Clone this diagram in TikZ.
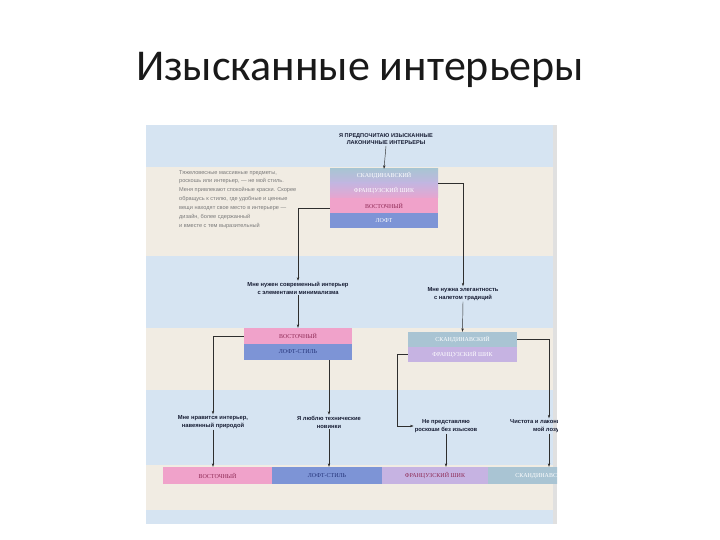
\documentclass[tikz,border=0pt]{standalone}
\usepackage{fontspec}
\setmainfont{Liberation Serif}
\newfontfamily\titlefont{Carlito}
\newfontfamily\labelfont{Liberation Sans}
\usepackage{tikz}
\usetikzlibrary{calc,positioning,arrows.meta}
\definecolor{bandblue}{HTML}{D6E4F2}
\definecolor{bandbeige}{HTML}{F1ECE3}
\definecolor{boxpink}{HTML}{F0A2CA}
\definecolor{boxblue}{HTML}{7D94D6}
\definecolor{boxlav}{HTML}{C6B3E2}
\definecolor{boxteal}{HTML}{A9C4D3}
\definecolor{textnavy}{HTML}{161C33}
\definecolor{textmaroon}{HTML}{8E2A55}
\definecolor{textdeep}{HTML}{26357A}
\definecolor{notegrey}{HTML}{7A7A7A}
\definecolor{linegrey}{HTML}{2E2E2E}

\tikzset{
  stylebox/.style={minimum width=108pt, minimum height=15pt, inner sep=0pt, font=\fontsize{6}{7}\selectfont},
  question/.style={align=center, inner sep=1pt, text=textnavy, font=\labelfont\bfseries\fontsize{5.8}{7.8}\selectfont},
  link/.style={draw=linegrey, line width=0.45pt, -{Stealth[length=3.5pt,width=2.4pt]}}
}

\begin{document}
\begin{tikzpicture}[x=1pt,y=-1pt]
\useasboundingbox[fill=white] (0,0) rectangle (720,540);

\node[font=\titlefont\fontsize{44}{50}\selectfont, text=black!90] (title) at (360,70) {Изысканные интерьеры};

\begin{scope}
\clip (146,125) rectangle (557,524);

% Background bands
\fill[bandblue] (146,125) rectangle (557,167);
\fill[bandbeige] (146,167) rectangle (557,256);
\fill[bandblue] (146,256) rectangle (557,328);
\fill[bandbeige] (146,328) rectangle (557,390);
\fill[bandblue] (146,390) rectangle (557,465);
\fill[bandbeige] (146,465) rectangle (557,510);
\fill[bandblue] (146,510) rectangle (557,524);
\fill[black!12] (553,125) rectangle (557,524);

% Top question and stack
\node[question, font=\labelfont\bfseries\fontsize{5.6}{7.5}\selectfont] (head) at (386,139) {Я ПРЕДПОЧИТАЮ ИЗЫСКАННЫЕ\\ЛАКОНИЧНЫЕ ИНТЕРЬЕРЫ};
\node[stylebox, minimum height=14pt, top color=boxteal, bottom color=boxlav!85!boxteal, text=white] (topS) at (384,176) {СКАНДИНАВСКИЙ};
\node[stylebox, top color=boxlav!90!boxteal, bottom color=boxpink!80!boxlav, text=white] (topF) at (384,190.5) {ФРАНЦУЗСКИЙ ШИК};
\node[stylebox, fill=boxpink, text=textmaroon] (topE) at (384,205.5) {ВОСТОЧНЫЙ};
\node[stylebox, fill=boxblue, text=white] (topL) at (384,220.5) {ЛОФТ};

% Note on the left
\node[anchor=north west, align=left, inner sep=0pt, text=notegrey, font=\labelfont\fontsize{5.6}{8.9}\selectfont] (note) at (179,170) {%
  Тяжеловесные массивные предметы,\\
  роскошь или интерьер, — не мой стиль.\\
  Меня привлекают спокойные краски. Скорее\\
  обращусь к стилю, где удобные и ценные\\
  вещи находят свое место в интерьере —\\
  дизайн, более сдержанный\\
  и вместе с тем выразительный};

\draw[link] (head.south) -- (topS.north);

% Second level
\node[question] (q1) at (298,288) {Мне нужен современный интерьер\\с элементами минимализма};
\node[question] (q2) at (463,294) {Мне нужна элегантность\\с налетом традиций};

\node[stylebox, minimum height=16pt, fill=boxpink, text=textmaroon] (midE) at (298,336) {ВОСТОЧНЫЙ};
\node[stylebox, minimum height=16pt, fill=boxblue, text=textdeep] (midL) at (298,352) {ЛОФТ-СТИЛЬ};
\node[stylebox, minimum width=109pt, fill=boxteal, text=white] (midS) at (462.5,339.5) {СКАНДИНАВСКИЙ};
\node[stylebox, minimum width=109pt, fill=boxlav, text=white] (midF) at (462.5,354.5) {ФРАНЦУЗСКИЙ ШИК};

\draw[link] ([yshift=-3pt]topE.west) -| (q1.north);
\draw[link] (topS.south east) -| (q2.north);
\draw[link] (q1.south) -- (midE.north);
\draw[link] (q2.south) -- (midS.north);

% Third level
\node[question] (q3) at (213,422) {Мне нравится интерьер,\\навеянный природой};
\node[question] (q4) at (329,422) {Я люблю технические\\новинки};
\node[question] (q5) at (446,426) {Не представляю\\роскоши без изысков};
\node[question] (q6) at (549,426) {Чистота и лаконичность —\\мой лозунг};

\node[stylebox, minimum width=109pt, minimum height=17pt, fill=boxpink, text=textmaroon] (botE) at (217.5,475.5) {ВОСТОЧНЫЙ};
\node[stylebox, minimum width=110pt, minimum height=17pt, fill=boxblue, text=textdeep] (botL) at (327,475.5) {ЛОФТ-СТИЛЬ};
\node[stylebox, minimum width=106pt, minimum height=17pt, fill=boxlav, text=textmaroon] (botF) at (435,475.5) {ФРАНЦУЗСКИЙ ШИК};
\node[stylebox, minimum width=109pt, minimum height=17pt, fill=boxteal, text=white] (botS) at (542.5,475.5) {СКАНДИНАВСКИЙ};

\draw[link] (midE.west) -| (q3.north);
\draw[link] (midL.south -| q4.north) -- (q4.north);
\draw[link] (midF.west) -- ++(-11,0) |- (q5.west);
\draw[link] (midS.east) -| (q6.north);
\draw[link] (q3.south) -- (q3.south |- botE.north);
\draw[link] (q4.south) -- (q4.south |- botL.north);
\draw[link] (q5.south) -- (q5.south |- botF.north);
\draw[link] (q6.south) -- (q6.south |- botS.north);
\end{scope}

\end{tikzpicture}
\end{document}
